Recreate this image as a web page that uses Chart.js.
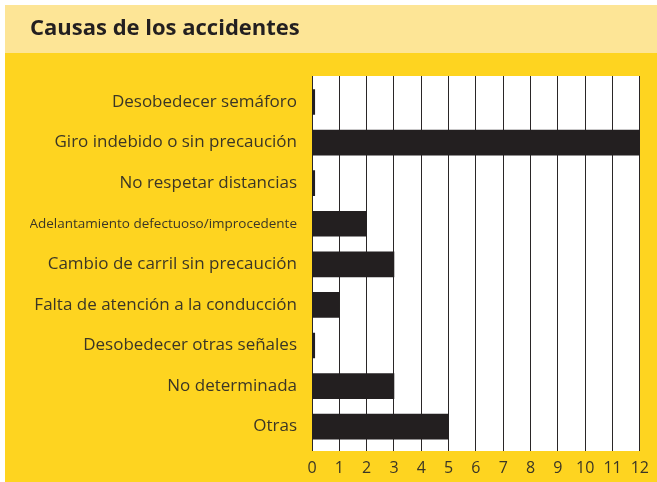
<!DOCTYPE html>
<html>
<head>
<meta charset="utf-8">
<script src="https://cdn.jsdelivr.net/npm/chart.js@4/dist/chart.umd.min.js"></script>
<style>
html,body{margin:0;padding:0;background:#fff;}
#wrap{width:657px;height:482px;position:relative;}
</style>
</head>
<body>
<div id="wrap"><canvas id="c" width="657" height="482"></canvas></div>
<script>
const categories = [
  "Desobedecer semáforo",
  "Giro indebido o sin precaución",
  "No respetar distancias",
  "Adelantamiento defectuoso/improcedente",
  "Cambio de carril sin precaución",
  "Falta de atención a la conducción",
  "Desobedecer otras señales",
  "No determinada",
  "Otras"
];
const values = [0.1, 12, 0.1, 2, 3, 1, 0.1, 3, 5];
const xTicks = [0,1,2,3,4,5,6,7,8,9,10,11,12];

const bgPlugin = {
  id: 'bg',
  beforeDraw(chart) {
    const ctx = chart.ctx;
    const W = chart.width, H = chart.height;
    ctx.save();
    ctx.fillStyle = '#ffffff';
    ctx.fillRect(0, 0, W, H);
    ctx.fillStyle = '#fde596';
    ctx.fillRect(5, 5, W - 5, 48);
    ctx.fillStyle = '#fed420';
    ctx.fillRect(5, 53, W - 5, H - 53);
    const a = chart.chartArea;
    ctx.fillStyle = '#ffffff';
    ctx.fillRect(a.left, a.top, a.right - a.left, a.bottom - a.top);
    ctx.restore();
  }
};

new Chart(document.getElementById('c'), {
  type: 'bar',
  data: {
    datasets: [{
      data: values.map((v, i) => ({x: v, y: i})),
      backgroundColor: '#231f20',
      borderWidth: 0,
      barThickness: 25
    }]
  },
  options: {
    indexAxis: 'y',
    responsive: false,
    animation: false,
    layout: { padding: { left: 30, right: 16, top: 0, bottom: 0 } },
    plugins: {
      legend: { display: false },
      tooltip: { enabled: false },
      title: {
        display: true,
        text: 'Causas de los accidentes',
        align: 'start',
        color: '#231f20',
        font: { family: '"Open Sans", sans-serif', size: 22, weight: 'bold', lineHeight: 1.2 },
        padding: { top: 16, bottom: 33.6 }
      }
    },
    scales: {
      x: {
        type: 'linear',
        min: 0,
        max: 12,
        afterBuildTicks: axis => { axis.ticks = xTicks.map(v => ({value: v})); },
        grid: { color: '#2a2627', lineWidth: 1, drawTicks: false },
        border: { display: false },
        ticks: {
          color: '#3b3626',
          font: { family: '"Open Sans", sans-serif', size: 16 },
          padding: 8
        },
        afterFit: axis => { axis.height = 31; }
      },
      y: {
        type: 'linear',
        reverse: true,
        offset: false,
        min: -0.64,
        max: 8.6,
        afterBuildTicks: axis => { axis.ticks = categories.map((_, i) => ({value: i})); },
        grid: { display: false, drawTicks: false },
        border: { display: false },
        ticks: {
          color: '#3b3626',
          padding: 15,
          font: ctx => (ctx.index === 3
            ? { family: '"Open Sans", sans-serif', size: 13.5 }
            : { family: '"Open Sans", sans-serif', size: 17 }),
          callback: v => categories[v]
        },
        afterFit: axis => { axis.width = 282; }
      }
    }
  },
  plugins: [bgPlugin]
});
</script>
</body>
</html>
